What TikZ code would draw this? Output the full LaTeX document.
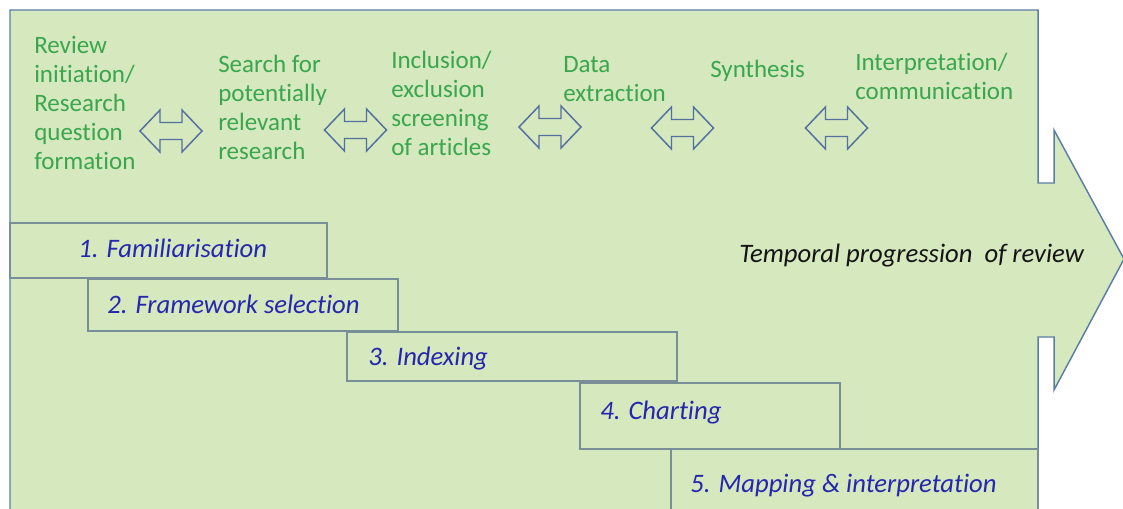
\documentclass[tikz,border=0pt]{standalone}
\usepackage{fontspec}
\setmainfont{Carlito}[Ligatures=NoCommon]
\usetikzlibrary{fit}
\definecolor{panel}{RGB}{213,232,190}
\definecolor{panelline}{RGB}{92,126,166}
\definecolor{boxline}{RGB}{122,142,152}
\definecolor{arrowline}{RGB}{84,112,160}
\definecolor{stepgreen}{RGB}{58,166,78}
\definecolor{phaseblue}{RGB}{38,38,175}
\definecolor{notetext}{RGB}{20,20,20}
\tikzset{
  stage/.style={font=\fontsize{18.75}{21.75}\selectfont, text=stepgreen,
    align=left, anchor=north west, inner sep=0pt},
  phasebox/.style={draw=boxline, line width=1.1pt, fill=panel, inner sep=0pt},
  phasetext/.style={font=\fontsize{20}{24}\selectfont\itshape, text=phaseblue,
    anchor=base west, inner sep=0pt},
  pics/dblarrow/.style={code={
    \draw[draw=arrowline, line width=1.1pt, fill=panel, line join=miter]
      (-31,0) -- (-11,-21) -- (-11,-8.5) -- (11,-8.5) -- (11,-21) -- (31,0)
      -- (11,21) -- (11,8.5) -- (-11,8.5) -- (-11,21) -- cycle;}}
}
\begin{document}
\begin{tikzpicture}[x=0.75pt,y=-0.75pt]
  \useasboundingbox (0,0) rectangle (1123,508);
  \clip (0,0) rectangle (1123,508);

  % notched arrow carrying the whole review
  \draw[draw=panelline, line width=1.1pt, fill=panel, line join=miter]
    (10,540) -- (10,10) -- (1038,10) -- (1038,183) -- (1054,183) -- (1054,130)
    -- (1124,259) -- (1054,390) -- (1054,337) -- (1038,337) -- (1038,540) -- cycle;

  % review stages along the top
  \node[stage] (s1) at (34,32.7) {\strut Review\\initiation/\\Research\\question\\formation};
  \node[stage] (s2) at (218,51.7) {\strut Search for\\potentially\\relevant\\research};
  \node[stage] (s3) at (391,47.7) {\strut Inclusion/\\exclusion\\screening\\of articles};
  \node[stage] (s4) at (563,51.7) {\strut Data\\extraction};
  \node[stage] (s5) at (710,56.7) {\strut Synthesis};
  \node[stage] (s6) at (855,49.7) {\strut Interpretation/\\communication};

  \pic (a12) at (171,131) {dblarrow};
  \pic (a23) at (355.5,130) {dblarrow};
  \pic (a34) at (550,127) {dblarrow};
  \pic (a45) at (682.5,128) {dblarrow};
  \pic (a56) at (836.5,128) {dblarrow};

  % staggered framework-analysis phases
  \node[phasebox, fit={(10,223) (327,278)}] (p1) {};
  \node[phasebox, fit={(88,279) (398,331)}] (p2) {};
  \node[phasebox, fit={(347,332) (677,381)}] (p3) {};
  \node[phasebox, fit={(580,383) (840,449)}] (p4) {};
  \node[phasebox, fit={(671,449) (1038,540)}] (p5) {};

  \node[phasetext] (t1) at (78,257) {1. Familiarisation};
  \node[phasetext] (t2) at (107,313) {2. Framework selection};
  \node[phasetext] (t3) at (368,365) {3. Indexing};
  \node[phasetext] (t4) at (600,419) {4. Charting};
  \node[phasetext] (t5) at (690,492) {5. Mapping \& interpretation};

  \node[font=\fontsize{20}{24}\selectfont\itshape, text=notetext,
    anchor=base west, inner sep=0pt] (tp) at (739,262)
    {Temporal progression\hspace{0.45em}of review};
\end{tikzpicture}
\end{document}
